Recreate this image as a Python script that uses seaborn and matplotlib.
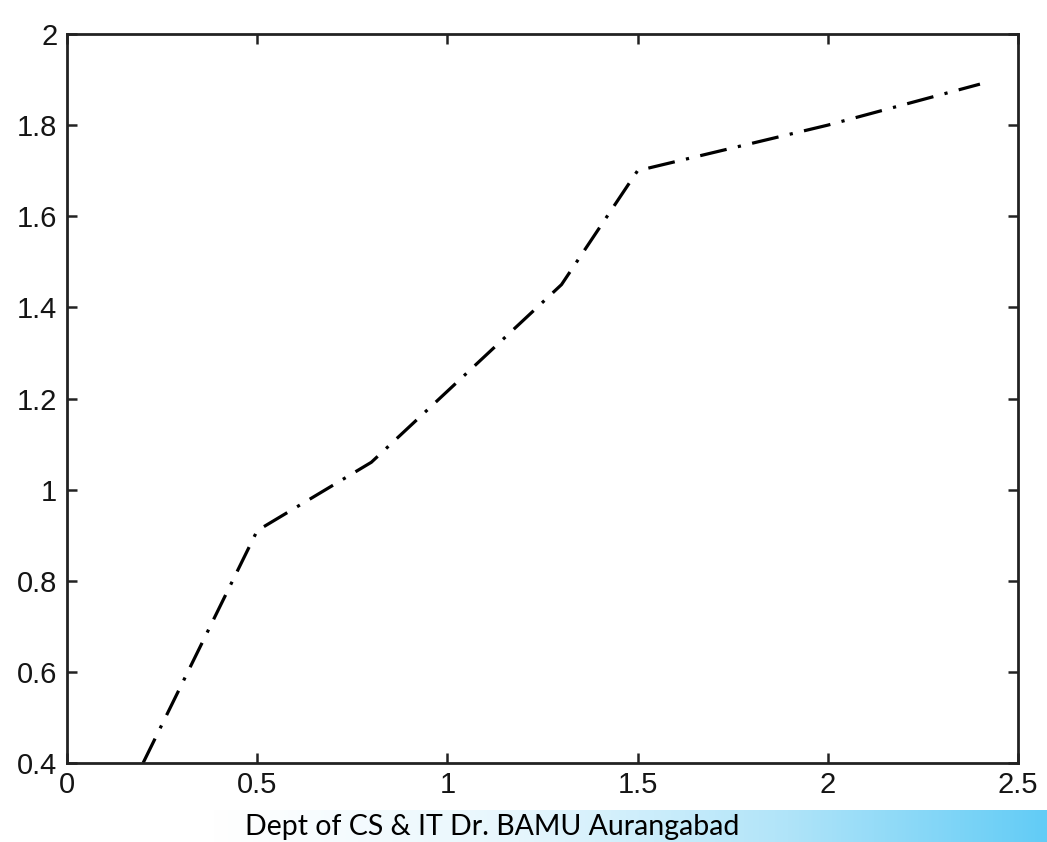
import numpy as np
import pandas as pd
import matplotlib
matplotlib.use("Agg")
import matplotlib.pyplot as plt
from matplotlib.colors import LinearSegmentedColormap
import seaborn as sns

# Piecewise curve
x_vals = [0.2, 0.5, 0.8, 1.3, 1.5, 2.0, 2.4]
y_vals = [0.4, 0.91, 1.06, 1.45, 1.70, 1.80, 1.89]

x_ticks = [0, 0.5, 1, 1.5, 2, 2.5]
x_tick_labels = ["0", "0.5", "1", "1.5", "2", "2.5"]
y_ticks = [0.4, 0.6, 0.8, 1.0, 1.2, 1.4, 1.6, 1.8, 2.0]
y_tick_labels = ["0.4", "0.6", "0.8", "1", "1.2", "1.4", "1.6", "1.8", "2"]

footer_text = "Dept of CS & IT Dr. BAMU Aurangabad"

sns.set_style("white")
plt.rcParams["font.family"] = ["Liberation Sans", "DejaVu Sans"]

W, H = 1047, 842
fig = plt.figure(figsize=(W / 100, H / 100), dpi=100)
fig.patch.set_facecolor("white")

# Footer gradient band
band = fig.add_axes([0, 0, 1, 32 / H])
band.set_axis_off()
t = np.linspace(0, 1, 600)
grad = np.clip((t - 0.2) / 0.8, 0, 1) ** 1.1
cmap = LinearSegmentedColormap.from_list(
    "band", ["#ffffff", "#e6f6fd", "#b0e4f9", "#62ccf6"], N=256)
band.imshow(grad[np.newaxis, :], aspect="auto", cmap=cmap, vmin=0, vmax=1,
            extent=[0, 1, 0, 1])
band.set_xlim(0, 1)
band.set_ylim(0, 1)
fig.text(245 / W, 2 / H, footer_text, fontsize=20.5, family=["Lato", "DejaVu Sans"],
         color="black", ha="left", va="bottom")

# Main axes
left, right, top, bottom = 67, 1018, 34, 763
ax = fig.add_axes([left / W, (H - bottom) / H, (right - left) / W, (bottom - top) / H])
df = pd.DataFrame({"x": x_vals, "y": y_vals})
sns.lineplot(data=df, x="x", y="y", ax=ax, color="black", linewidth=2.3,
             estimator=None, sort=False)
ax.lines[0].set_linestyle((0, (8.5, 3.6, 1.0, 3.6)))

ax.set_xlim(0, 2.5)
ax.set_ylim(0.4, 2.0)
ax.set_xticks(x_ticks)
ax.set_xticklabels(x_tick_labels, family="Liberation Sans", fontsize=21)
ax.set_yticks(y_ticks)
ax.set_yticklabels(y_tick_labels, family="Liberation Sans", fontsize=21)
ax.set_xlabel("")
ax.set_ylabel("")
ax.tick_params(direction="in", length=7, width=1.8, color="#222222",
               labelcolor="#151515", top=True, right=True,
               bottom=True, left=True)
ax.tick_params(axis="x", pad=6)
ax.tick_params(axis="y", pad=7)
for s in ax.spines.values():
    s.set_visible(True)
    s.set_linewidth(2.0)
    s.set_color("#222222")

fig.savefig("out.png", dpi=100)
